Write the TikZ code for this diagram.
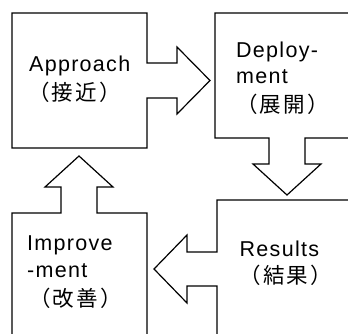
\documentclass[tikz,border=0pt]{standalone}
\usepackage{fontspec}
\setmainfont{Liberation Sans}[LetterSpace=6]
\newfontfamily\cjk{Noto Sans CJK JP}[LetterSpace=10]
\begin{document}
\begin{tikzpicture}[x=1pt,y=-1pt,
  outline/.style={draw=black,line width=1.2pt,line join=miter},
  lbl/.style={anchor=base west,inner sep=0pt,font=\fontsize{21.5}{26}\selectfont}]
\useasboundingbox (0,0) rectangle (348,334);
\clip (0,0) rectangle (348,334);
% Approach box with right arrow
\draw[outline] (12,13) -- (147,13) -- (147,63) -- (177,63) -- (177,47) -- (210,80.5)
  -- (177,114) -- (177,98) -- (147,98) -- (147,148) -- (12,148) -- cycle;
% Deployment box with down arrow
\draw[outline] (360,13) -- (215,13) -- (215,138) -- (269,138) -- (269,164) -- (253,164)
  -- (287,195) -- (321,164) -- (305,164) -- (305,138) -- (360,138);
% Results box with left arrow
\draw[outline] (360,200) -- (217,200) -- (217,252) -- (187,252) -- (187,235) -- (154,269)
  -- (187,303) -- (187,286) -- (217,286) -- (217,345);
% Improvement box with up arrow
\draw[outline] (12,345) -- (12,213) -- (61,213) -- (61,187) -- (45,187) -- (79,156)
  -- (113,187) -- (97,187) -- (97,213) -- (147,213) -- (147,345);
% Labels
\node[lbl] (a1) at (29,72) {Approach};
\node[lbl] (a2) at (28,101) {\cjk （接近）};
\node[lbl] (d1) at (236,58) {Deploy-};
\node[lbl] (d2) at (236,84) {ment};
\node[lbl] (d3) at (236,113) {\cjk （展開）};
\node[lbl] (r1) at (239.5,256) {Results};
\node[lbl] (r2) at (239.5,283) {\cjk （結果）};
\node[lbl] (i1) at (27,250) {Improve};
\node[lbl] (i2) at (27,277) {-ment};
\node[lbl] (i3) at (29,306) {\cjk （改善）};
\end{tikzpicture}
\end{document}
